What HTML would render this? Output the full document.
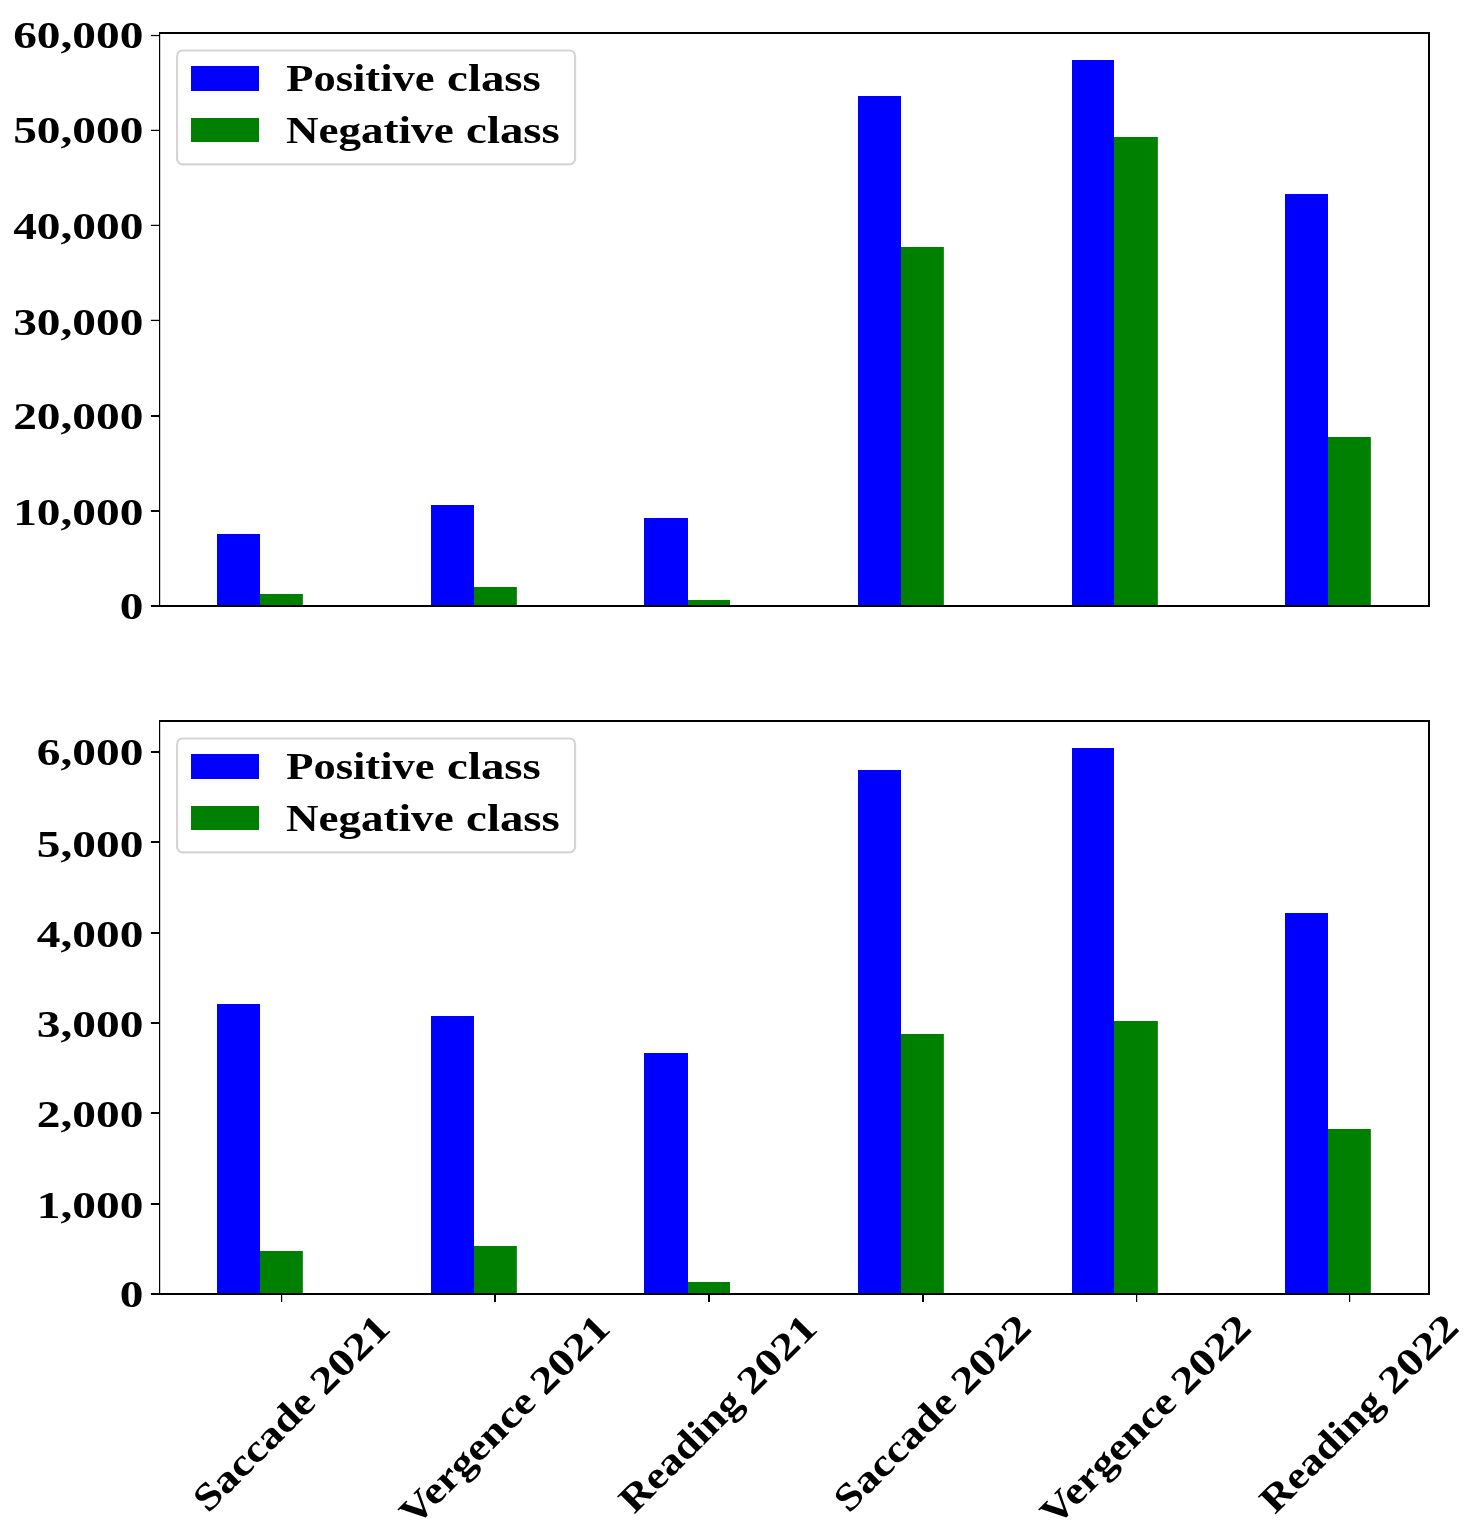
<!DOCTYPE html>
<html lang="en">
<head>
<meta charset="utf-8">
<title>Positive and negative class counts per task and year</title>
<style>
html,body{margin:0;padding:0;background:#ffffff;}
body{width:1469px;height:1527px;overflow:hidden;}
svg{display:block;will-change:transform;}
text{font-family:"Liberation Serif",serif;font-weight:bold;fill:#000000;}
</style>
</head>
<body>
<svg width="1469" height="1527" viewBox="0 0 1469 1527">
<rect x="0" y="0" width="1469" height="1527" fill="#ffffff"/>
<rect x="217" y="534" width="43" height="71" fill="#0000ff"/>
<rect x="260" y="594" width="42.85" height="11" fill="#008000"/>
<rect x="431" y="505" width="43" height="100" fill="#0000ff"/>
<rect x="474" y="587" width="42.85" height="18" fill="#008000"/>
<rect x="644" y="518" width="44" height="87" fill="#0000ff"/>
<rect x="688" y="600" width="42.00" height="5" fill="#008000"/>
<rect x="858" y="96" width="43" height="509" fill="#0000ff"/>
<rect x="901" y="247" width="42.85" height="358" fill="#008000"/>
<rect x="1072" y="60" width="42" height="545" fill="#0000ff"/>
<rect x="1114" y="137" width="43.85" height="468" fill="#008000"/>
<rect x="1285" y="194" width="43" height="411" fill="#0000ff"/>
<rect x="1328" y="437" width="42.85" height="168" fill="#008000"/>
<rect x="159" y="32" width="1271" height="2" fill="#000"/>
<rect x="159" y="605" width="1271" height="2" fill="#000"/>
<rect x="159" y="32" width="1.2" height="575" fill="#000"/>
<rect x="1428" y="32" width="2" height="575" fill="#000"/>
<rect x="150.9" y="605" width="8.6" height="2.00" fill="#000"/>
<rect x="150.9" y="510" width="8.6" height="2.00" fill="#000"/>
<rect x="150.9" y="415" width="8.6" height="2.00" fill="#000"/>
<rect x="150.9" y="319.77" width="8.6" height="1.26" fill="#000"/>
<rect x="150.9" y="224.77" width="8.6" height="1.26" fill="#000"/>
<rect x="150.9" y="129.77" width="8.6" height="1.26" fill="#000"/>
<rect x="150.9" y="34.89" width="8.6" height="1.26" fill="#000"/>
<text transform="translate(143.4,619.4) scale(1.2336,1)" text-anchor="end" font-size="38.4">0</text>
<text transform="translate(143.4,525.1) scale(1.2336,1)" text-anchor="end" font-size="38.4">10,000</text>
<text transform="translate(143.4,429.4) scale(1.2336,1)" text-anchor="end" font-size="38.4">20,000</text>
<text transform="translate(143.4,334.5) scale(1.2336,1)" text-anchor="end" font-size="38.4">30,000</text>
<text transform="translate(143.4,239.2) scale(1.2336,1)" text-anchor="end" font-size="38.4">40,000</text>
<text transform="translate(143.4,143.3) scale(1.2336,1)" text-anchor="end" font-size="38.4">50,000</text>
<text transform="translate(143.4,48.2) scale(1.2336,1)" text-anchor="end" font-size="38.4">60,000</text>
<rect x="177.05" y="50.45" width="398.05" height="113.95" rx="5.6" ry="5.6" fill="#ffffff" fill-opacity="0.8" stroke="#d5d5d5" stroke-width="2.1"/>
<rect x="191" y="66" width="68" height="25" fill="#0000ff"/>
<rect x="191" y="118" width="68" height="24" fill="#008000"/>
<text transform="translate(286.2,91.0) scale(1.172,1)" font-size="38.0">Positive</text>
<text transform="translate(447.1,91.0) scale(1.234,1)" font-size="38.0">class</text>
<text transform="translate(286.0,143.0) scale(1.186,1)" font-size="38.0">Negative</text>
<text transform="translate(466.1,143.0) scale(1.234,1)" font-size="38.0">class</text>
<rect x="217" y="1004" width="43" height="289" fill="#0000ff"/>
<rect x="260" y="1251" width="42.85" height="42" fill="#008000"/>
<rect x="431" y="1016" width="43" height="277" fill="#0000ff"/>
<rect x="474" y="1246" width="42.85" height="47" fill="#008000"/>
<rect x="644" y="1053" width="44" height="240" fill="#0000ff"/>
<rect x="688" y="1282" width="42.00" height="11" fill="#008000"/>
<rect x="858" y="770" width="43" height="523" fill="#0000ff"/>
<rect x="901" y="1034" width="42.85" height="259" fill="#008000"/>
<rect x="1072" y="748" width="42" height="545" fill="#0000ff"/>
<rect x="1114" y="1021" width="43.85" height="272" fill="#008000"/>
<rect x="1285" y="913" width="43" height="380" fill="#0000ff"/>
<rect x="1328" y="1129" width="42.85" height="164" fill="#008000"/>
<rect x="159" y="720" width="1271" height="2" fill="#000"/>
<rect x="159" y="1293" width="1271" height="2" fill="#000"/>
<rect x="159" y="720" width="1.2" height="575" fill="#000"/>
<rect x="1428" y="720" width="2" height="575" fill="#000"/>
<rect x="150.9" y="1293" width="8.6" height="2.00" fill="#000"/>
<rect x="150.9" y="1203" width="8.6" height="2.00" fill="#000"/>
<rect x="150.9" y="1112" width="8.6" height="2.00" fill="#000"/>
<rect x="150.9" y="1022" width="8.6" height="2.00" fill="#000"/>
<rect x="150.9" y="932" width="8.6" height="2.00" fill="#000"/>
<rect x="150.9" y="841" width="8.6" height="2.00" fill="#000"/>
<rect x="150.9" y="751" width="8.6" height="2.00" fill="#000"/>
<text transform="translate(143.4,1306.8) scale(1.2336,1)" text-anchor="end" font-size="38.4">0</text>
<text transform="translate(143.4,1218.4) scale(1.2336,1)" text-anchor="end" font-size="38.4">1,000</text>
<text transform="translate(143.4,1127.4) scale(1.2336,1)" text-anchor="end" font-size="38.4">2,000</text>
<text transform="translate(143.4,1036.7) scale(1.2336,1)" text-anchor="end" font-size="38.4">3,000</text>
<text transform="translate(143.4,947.2) scale(1.2336,1)" text-anchor="end" font-size="38.4">4,000</text>
<text transform="translate(143.4,856.5) scale(1.2336,1)" text-anchor="end" font-size="38.4">5,000</text>
<text transform="translate(143.4,765.3) scale(1.2336,1)" text-anchor="end" font-size="38.4">6,000</text>
<rect x="177.05" y="738.45" width="398.05" height="113.95" rx="5.6" ry="5.6" fill="#ffffff" fill-opacity="0.8" stroke="#d5d5d5" stroke-width="2.1"/>
<rect x="191" y="754" width="68" height="25" fill="#0000ff"/>
<rect x="191" y="806" width="68" height="24" fill="#008000"/>
<text transform="translate(286.2,779.0) scale(1.172,1)" font-size="38.0">Positive</text>
<text transform="translate(447.1,779.0) scale(1.234,1)" font-size="38.0">class</text>
<text transform="translate(286.0,831.0) scale(1.186,1)" font-size="38.0">Negative</text>
<text transform="translate(466.1,831.0) scale(1.234,1)" font-size="38.0">class</text>
<rect x="281" y="1294" width="1.2" height="8" fill="#000"/>
<rect x="494" y="1294" width="2.0" height="8" fill="#000"/>
<rect x="708" y="1294" width="2.0" height="8" fill="#000"/>
<rect x="922" y="1294" width="2.0" height="8" fill="#000"/>
<rect x="1136" y="1294" width="1.2" height="8" fill="#000"/>
<rect x="1349" y="1294" width="1.2" height="8" fill="#000"/>
<text transform="translate(317.42,1404.67) rotate(-45) scale(1.17,1)" text-anchor="end" font-size="38.3">Saccade</text>
<text transform="translate(392.16,1329.93) rotate(-45) scale(1.2336,1)" text-anchor="end" font-size="38.3">2021</text>
<text transform="translate(537.75,1404.38) rotate(-45) scale(1.164,1)" text-anchor="end" font-size="38.3">Vergence</text>
<text transform="translate(612.14,1330.00) rotate(-45) scale(1.2336,1)" text-anchor="end" font-size="38.3">2021</text>
<text transform="translate(744.65,1404.38) rotate(-45) scale(1.147,1)" text-anchor="end" font-size="38.3">Reading</text>
<text transform="translate(819.11,1329.93) rotate(-45) scale(1.2336,1)" text-anchor="end" font-size="38.3">2021</text>
<text transform="translate(958.20,1404.81) rotate(-45) scale(1.17,1)" text-anchor="end" font-size="38.3">Saccade</text>
<text transform="translate(1033.08,1329.93) rotate(-45) scale(1.2336,1)" text-anchor="end" font-size="38.3">2022</text>
<text transform="translate(1178.53,1404.53) rotate(-45) scale(1.164,1)" text-anchor="end" font-size="38.3">Vergence</text>
<text transform="translate(1253.13,1329.93) rotate(-45) scale(1.2336,1)" text-anchor="end" font-size="38.3">2022</text>
<text transform="translate(1385.51,1404.60) rotate(-45) scale(1.147,1)" text-anchor="end" font-size="38.3">Reading</text>
<text transform="translate(1460.67,1329.43) rotate(-45) scale(1.2336,1)" text-anchor="end" font-size="38.3">2022</text>
</svg>
</body>
</html>
